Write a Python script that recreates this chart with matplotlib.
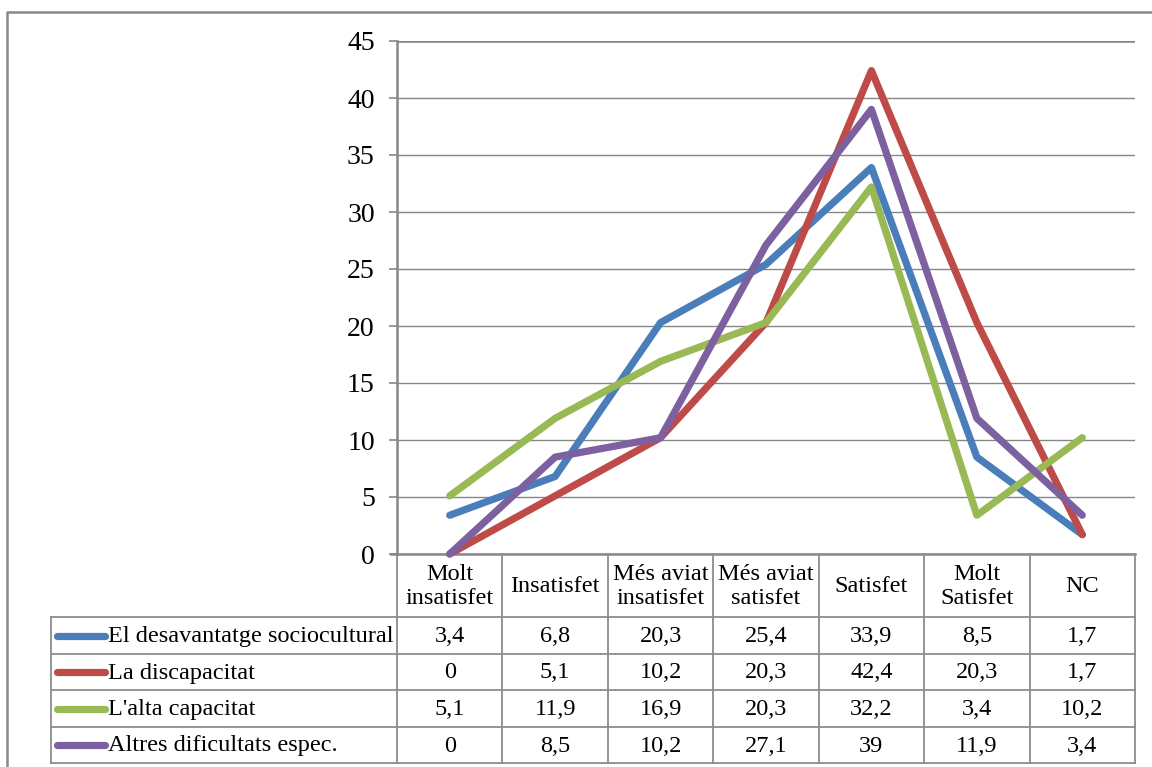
import matplotlib
matplotlib.use("Agg")
import matplotlib.pyplot as plt

# ----------------------------
# Data
# ----------------------------
categories = ["Molt\ninsatisfet", "Insatisfet", "Més aviat\ninsatisfet",
              "Més aviat\nsatisfet", "Satisfet", "Molt\nSatisfet", "NC"]
series_names = ["El desavantatge sociocultural", "La discapacitat",
                "L'alta capacitat", "Altres dificultats espec."]
desavantatge = [3.4, 6.8, 20.3, 25.4, 33.9, 8.5, 1.7]
discapacitat = [0, 5.1, 10.2, 20.3, 42.4, 20.3, 1.7]
alta_capacitat = [5.1, 11.9, 16.9, 20.3, 32.2, 3.4, 10.2]
altres = [0, 8.5, 10.2, 27.1, 39, 11.9, 3.4]
series_values = [desavantatge, discapacitat, alta_capacitat, altres]
series_colors = ["#4A7EBB", "#BE4B48", "#98B954", "#7D60A0"]
y_ticks = list(range(0, 50, 5))

# ----------------------------
# Layout (pixels)
# ----------------------------
W, H = 1152, 767
PLOT_L, PLOT_R, PLOT_T, PLOT_B = 397, 1135, 41, 554
TABLE_L = 51
ROW_Y = [554, 617, 654, 690, 727, 763]
GRID = "#868686"
BORDER = "#8C8C8C"
FS = 17.5
LW = 5.2
FAMILY = ["Liberation Serif", "DejaVu Serif"]

plt.rcParams["font.family"] = FAMILY

fig = plt.figure(figsize=(W / 100, H / 100), dpi=100)
fig.patch.set_facecolor("white")

# overlay in pixel coordinates for frame and table
ov = fig.add_axes([0, 0, 1, 1])
ov.set_xlim(0, W)
ov.set_ylim(H, 0)
ov.axis("off")

ax = fig.add_axes([PLOT_L / W, 1 - PLOT_B / H,
                   (PLOT_R - PLOT_L) / W, (PLOT_B - PLOT_T) / H])
ax.set_facecolor("none")

x = list(range(len(categories)))
for vals, col in zip(series_values, series_colors):
    ax.plot(x, vals, color=col, lw=LW, solid_capstyle="round",
            solid_joinstyle="round", clip_on=False, zorder=3)

ax.set_xlim(-0.5, len(categories) - 0.5)
ax.set_ylim(0, 45)
ax.set_yticks(y_ticks)
ax.set_yticklabels([str(t) for t in y_ticks], fontsize=20, family=FAMILY)
ax.set_xticks([])
ax.grid(axis="y", color=GRID, lw=1.0, zorder=0)
ax.tick_params(axis="y", length=6, width=1.2, color=GRID, pad=10)
for s in ["top", "right", "bottom"]:
    ax.spines[s].set_visible(False)
ax.spines["left"].set_color(GRID)
ax.spines["left"].set_linewidth(1.8)
ax.axhline(45, color=GRID, lw=1.8, zorder=1)

# outer chart frame (only top/left visible in crop)
ov.plot([7, 7, W], [H, 12, 12], color="#898989", lw=1.8)

# ----------------------------
# Data table
# ----------------------------
ncol = len(categories)
col_w = (PLOT_R - PLOT_L) / ncol
col_x = [PLOT_L + k * col_w for k in range(ncol + 1)]

ov.plot([PLOT_L - 6, PLOT_R], [ROW_Y[0], ROW_Y[0]], color=GRID, lw=1.8)
for cx in col_x:
    ov.plot([cx, cx], [ROW_Y[0], ROW_Y[-1]], color=BORDER, lw=1.3)
for ry in ROW_Y[1:]:
    ov.plot([TABLE_L, PLOT_R], [ry, ry], color=BORDER, lw=1.3)
ov.plot([TABLE_L, TABLE_L], [ROW_Y[1], ROW_Y[-1]], color=BORDER, lw=1.3)

for k, cat in enumerate(categories):
    cx = (col_x[k] + col_x[k + 1]) / 2
    ov.text(cx, (ROW_Y[0] + ROW_Y[1]) / 2 + 1, cat, ha="center", va="center",
            fontsize=FS, linespacing=1.15, family=FAMILY)

for i, (name, vals, col) in enumerate(zip(series_names, series_values, series_colors)):
    cy = (ROW_Y[i + 1] + ROW_Y[i + 2]) / 2
    ov.plot([57, 105], [cy, cy], color=col, lw=LW, solid_capstyle="round")
    ov.text(108, cy + 1, name, ha="left", va="center", fontsize=FS, family=FAMILY)
    for k, v in enumerate(vals):
        cx = (col_x[k] + col_x[k + 1]) / 2
        label = f"{v:g}".replace(".", ",")
        ov.text(cx, cy + 1, label, ha="center", va="center", fontsize=FS,
                family=FAMILY)

fig.savefig("out.png", dpi=100, facecolor="white")
